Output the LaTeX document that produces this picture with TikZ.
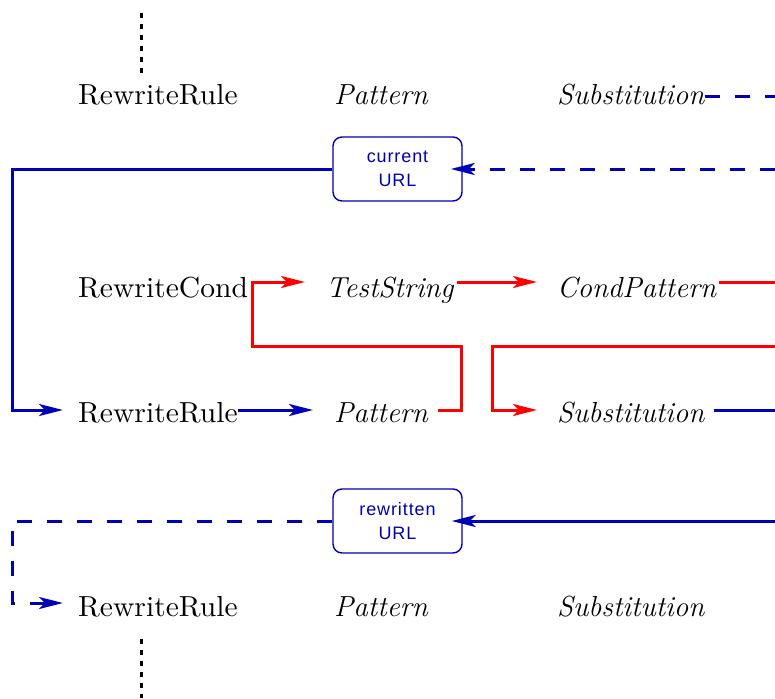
\documentclass[tikz,border=0pt]{standalone}
\usepackage{fontspec}
\newfontfamily\boxfont{Liberation Sans}[LetterSpace=5]
\newfontfamily\upfont{lmroman10-regular}[Extension=.otf, FakeStretch=1.02]
\usetikzlibrary{arrows.meta}
\definecolor{lblue}{RGB}{0,0,180}
\definecolor{lred}{RGB}{255,0,0}
\begin{document}
\begin{tikzpicture}[x=1pt,y=-1pt,
  lbl/.style={inner sep=0pt, anchor=base west, font=\upfont\fontsize{29}{34}\selectfont},
  ilbl/.style={inner sep=0pt, anchor=base west, font=\fontsize{29}{34}\selectfont\itshape},
  urlbox/.style={draw=lblue, line width=1.4pt, rounded corners=9pt, minimum width=129pt, minimum height=64pt, inner sep=0pt, align=center, text=lblue, font=\boxfont\fontsize{18}{24}\selectfont},
  bline/.style={draw=lblue, line width=3pt},
  rline/.style={draw=lred, line width=3pt},
  dline/.style={bline, dash pattern=on 15pt off 15pt},
  tip/.style={-{Stealth[length=24pt,width=12pt,inset=6pt]}},
  dots/.style={draw=black, line width=3pt, dash pattern=on 5pt off 6pt}]
\path[use as bounding box] (0,0) rectangle (775,698);
% row 1
\node[lbl] (rr1) at (78,105) {RewriteRule};
\node[ilbl] (pa1) at (334,105) {Pattern};
\node[ilbl] (su1) at (557,105) {Substitution};
\node[urlbox] (cur) at (397.5,169) {current\\URL};
% row 2
\node[lbl] (rc) at (78,297) {RewriteCond};
\node[ilbl] (ts) at (326,297) {TestString};
\node[ilbl] (cp) at (557,297) {CondPattern};
% row 3
\node[lbl] (rr2) at (78,422) {RewriteRule};
\node[ilbl] (pa2) at (334,422) {Pattern};
\node[ilbl] (su2) at (557,422) {Substitution};
\node[urlbox] (rew) at (397.5,521) {rewritten\\URL};
% row 4
\node[lbl] (rr3) at (78,616) {RewriteRule};
\node[ilbl] (pa3) at (334,616) {Pattern};
\node[ilbl] (su3) at (557,616) {Substitution};
% dotted continuation
\draw[dots] (141,13) -- ([yshift=10pt]rr1.north -| 141,0);
\draw[dots] ([yshift=-22pt]rr3.south -| 141,0) -- (141,698);
% blue connectors
\draw[dline] (su1.east |- 0,97) -- (775,97);
\draw[dline,tip] (775,169) -- ([xshift=-12pt]cur.east);
\draw[bline,tip] (cur.west) -- (12,169) -- (12,410) -- ([xshift=-15pt]rr2.west |- 0,410);
\draw[bline,tip] (rr2.east |- 0,410) -- ([xshift=-21pt]pa2.west |- 0,410);
\draw[bline] ([xshift=9pt]su2.east |- 0,410) -- (775,410);
\draw[bline,tip] (775,521) -- ([xshift=-11pt]rew.east);
\draw[dline,tip] (rew.west) -- (12,521) -- (12,603) -- ([xshift=-15pt]rr3.west |- 0,603);
% red connectors
\draw[rline,tip] ([xshift=10pt]pa2.east |- 0,410) -- (461,410) -- (461,346) -- (252,346) -- (252,282) -- ([xshift=-21pt]ts.west |- 0,282);
\draw[rline,tip] ([xshift=3pt]ts.east |- 0,282) -- ([xshift=-20pt]cp.west |- 0,282);
\draw[rline] ([xshift=3pt]cp.east |- 0,282) -- (775,282);
\draw[rline,tip] (775,346) -- (492,346) -- (492,410) -- ([xshift=-20pt]su2.west |- 0,410);
\end{tikzpicture}
\end{document}
